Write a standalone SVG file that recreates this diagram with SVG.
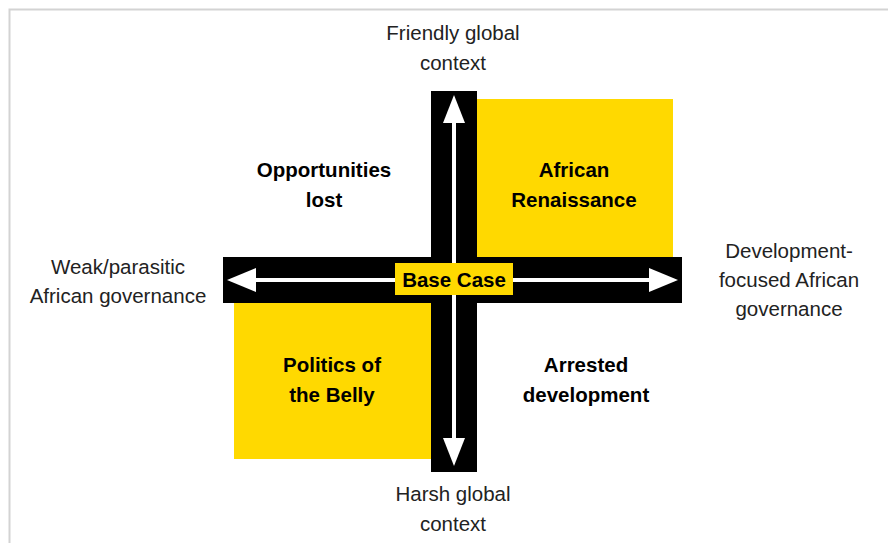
<svg xmlns="http://www.w3.org/2000/svg" width="888" height="543" viewBox="0 0 888 543">
<style>
.t{font-family:"Liberation Sans",Arial,sans-serif;font-size:20.5px;fill:#222;text-anchor:middle}
.b{font-weight:bold;fill:#000}
.bar{fill:#000}
.yel{fill:#ffd900}
.arr{stroke:#fff;stroke-width:4;fill:none}
.head{fill:#fff}
</style>
<rect width="888" height="543" fill="#fff"/>
<path d="M9.5 543 V9.5 H888" fill="none" stroke="#d3d3d3" stroke-width="2"/>
<g id="quadrant-african-renaissance">
<rect class="yel" x="477" y="99" width="196" height="158"/>
<text class="t b" x="574" y="177">African</text>
<text class="t b" x="574" y="207">Renaissance</text>
</g>
<g id="quadrant-politics-belly">
<rect class="yel" x="234" y="302" width="197" height="157"/>
<text class="t b" x="332" y="372">Politics of</text>
<text class="t b" x="332" y="402">the Belly</text>
</g>
<g id="quadrant-opportunities-lost">
<text class="t b" x="324" y="177">Opportunities</text>
<text class="t b" x="324" y="207">lost</text>
</g>
<g id="quadrant-arrested-development">
<text class="t b" x="586" y="372">Arrested</text>
<text class="t b" x="586" y="402">development</text>
</g>
<g id="connectors">
<rect class="bar" x="431" y="91" width="46" height="381"/>
<rect class="bar" x="223" y="257" width="459" height="46"/>
<line class="arr" x1="454" y1="120" x2="454" y2="440"/>
<polygon class="head" points="454,95 443,123 465,123"/>
<polygon class="head" points="454,466 443,438 465,438"/>
<line class="arr" x1="250" y1="280" x2="655" y2="280"/>
<polygon class="head" points="227,280 256,268 256,292"/>
<polygon class="head" points="678,280 649,268 649,292"/>
</g>
<g id="base-case">
<rect class="yel" x="395" y="263" width="118" height="32"/>
<text class="t b" x="454" y="286.5">Base Case</text>
</g>
<g id="label-top">
<text class="t" x="453" y="40">Friendly global</text>
<text class="t" x="453" y="70">context</text>
</g>
<g id="label-bottom">
<text class="t" x="453" y="501">Harsh global</text>
<text class="t" x="453" y="531">context</text>
</g>
<g id="label-left">
<text class="t" x="118" y="274">Weak/parasitic</text>
<text class="t" x="118" y="303">African governance</text>
</g>
<g id="label-right">
<text class="t" x="789" y="258">Development-</text>
<text class="t" x="789" y="287">focused African</text>
<text class="t" x="789" y="316">governance</text>
</g>
</svg>
